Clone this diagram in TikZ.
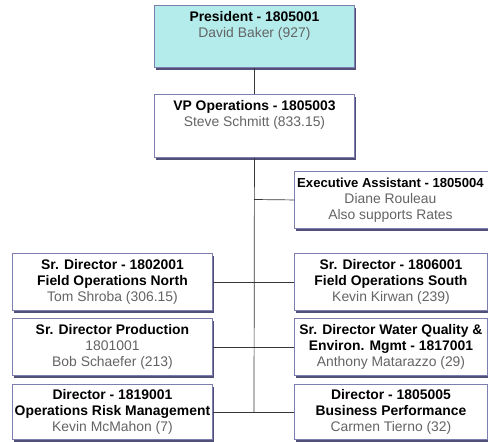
\documentclass[tikz,border=0pt]{standalone}
\usepackage{fontspec}
\setmainfont{Liberation Sans}
\usetikzlibrary{shadows}
\definecolor{bordc}{RGB}{125,125,175}
\definecolor{shadc}{RGB}{80,80,120}
\definecolor{presfill}{RGB}{180,236,236}
\definecolor{namec}{RGB}{100,100,100}
\definecolor{linec}{RGB}{55,55,55}
\begin{document}
\begin{tikzpicture}[x=1pt,y=-1pt,
  box/.style={draw=bordc, line width=0.9pt, fill=white, inner sep=0pt, anchor=north west,
    drop shadow={shadow xshift=2pt, shadow yshift=-2.5pt, fill=shadc, opacity=1}},
  wbox/.style={box, minimum width=200pt},
  rbox/.style={box, minimum width=193pt},
  txt/.style={align=center, inner sep=0pt, font=\fontsize{13.9}{16}\selectfont},
  conn/.style={draw=linec, line width=0.7pt}]
\useasboundingbox (0,0) rectangle (488,442);

% boxes
\node[wbox, fill=presfill, minimum height=62pt] (pres) at (154,5) {};
\node[wbox, minimum height=63pt] (vp) at (154,94) {};
\node[box, minimum width=198pt, minimum height=57pt] (ea) at (294,171) {};
\node[wbox, minimum height=57pt] (l1) at (12,253) {};
\node[wbox, minimum height=57pt] (l2) at (12,318) {};
\node[wbox, minimum height=55pt] (l3) at (12,384) {};
\node[rbox, minimum height=57pt] (r1) at (294,253) {};
\node[rbox, minimum height=57pt] (r2) at (294,318) {};
\node[rbox, minimum height=55pt] (r3) at (294,384) {};

% connectors
\coordinate (j3) at (254,412);
\coordinate (je) at (254,199.5);
\draw[conn] (pres.south) -- (vp.north);
\draw[conn] (vp.south) -- (j3);
\draw[conn] (je) -- (ea.west);
\draw[conn] (l1.east) -- (r1.west);
\draw[conn] (l2.east) -- (r2.west);
\draw[conn] (l3.east) -- (r3.west);

% texts
\node[txt, anchor=north] (presT) at ([yshift=-6.5pt]pres.north)
  {\textbf{President - 1805001}\\\textcolor{namec}{David Baker (927)}};
\node[txt, anchor=north] (vpT) at ([yshift=-6pt]vp.north)
  {\textbf{VP Operations - 1805003}\\\textcolor{namec}{Steve Schmitt (833.15)}};
\node[txt, anchor=north] (eaT) at ([xshift=-3pt,yshift=-6.5pt]ea.north)
  {{\fontsize{13.1}{16}\selectfont\textbf{Executive Assistant - 1805004}}\\\textcolor{namec}{Diane Rouleau}\\\textcolor{namec}{Also supports Rates}};
\node[txt] (l1T) at (l1.center)
  {\textbf{Sr. Director - 1802001}\\\textbf{Field Operations North}\\\textcolor{namec}{Tom Shroba (306.15)}};
\node[txt] (l2T) at (l2.center)
  {\textbf{Sr. Director Production}\\\textcolor{namec}{1801001}\\\textcolor{namec}{Bob Schaefer (213)}};
\node[txt] (l3T) at (l3.center)
  {\textbf{Director - 1819001}\\\textbf{Operations Risk Management}\\\textcolor{namec}{Kevin McMahon (7)}};
\node[txt] (r1T) at (r1.center)
  {\textbf{Sr. Director - 1806001}\\\textbf{Field Operations South}\\\textcolor{namec}{Kevin Kirwan (239)}};
\node[txt] (r2T) at (r2.center)
  {\textbf{Sr. Director Water Quality \&}\\\textbf{Environ. Mgmt - 1817001}\\\textcolor{namec}{Anthony Matarazzo (29)}};
\node[txt] (r3T) at (r3.center)
  {\textbf{Director - 1805005}\\\textbf{Business Performance}\\\textcolor{namec}{Carmen Tierno (32)}};
\end{tikzpicture}
\end{document}
